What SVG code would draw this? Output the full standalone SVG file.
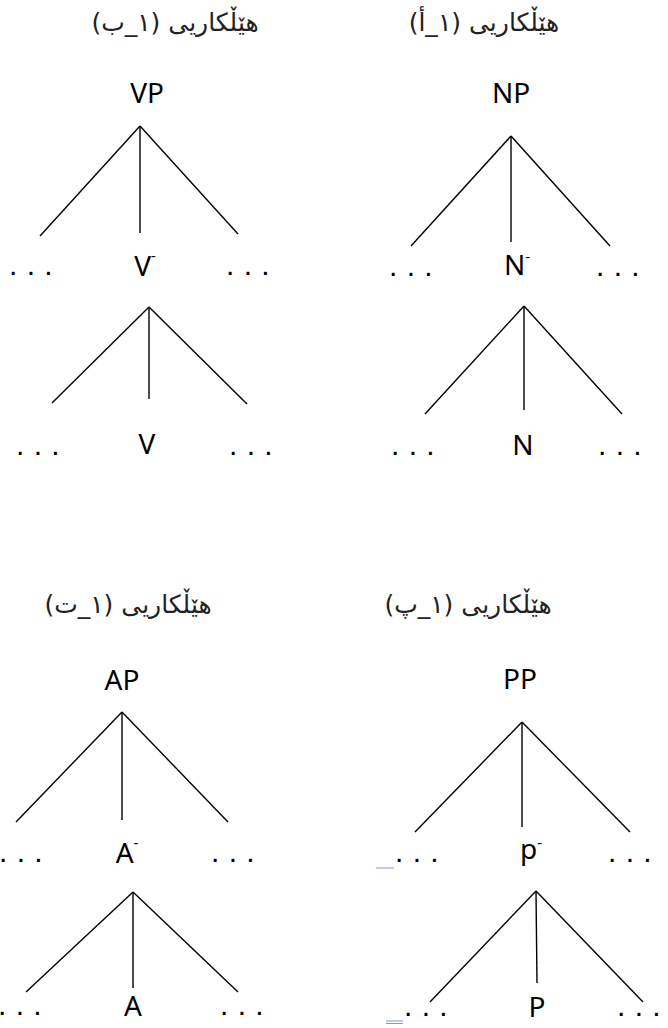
<svg xmlns="http://www.w3.org/2000/svg" width="668" height="1028" viewBox="0 0 668 1028">
<style>
.hd{font-family:"DejaVu Sans","Noto Sans",sans-serif;font-size:25px;fill:#222;text-anchor:middle;direction:rtl;unicode-bidi:embed}
.lb{font-family:"Noto Sans","Open Sans",sans-serif;font-size:28px;fill:#000;text-anchor:middle}
.sup{font-size:15px}
.dt{font-family:"Liberation Sans",Arial,sans-serif;font-size:30px;fill:#000;letter-spacing:9.3px}
.ln line{stroke:#000;stroke-width:1.4}
.bl{stroke:#7a9ae0;stroke-width:1}
</style>
<rect width="668" height="1028" fill="#fff"/>
<g id="headers">
<text class="hd" x="175" y="31">هێڵکاریی (١_ب)</text>
<text class="hd" x="484" y="31">هێڵکاریی (١_أ)</text>
<text class="hd" x="128" y="613">هێڵکاریی (١_ت)</text>
<text class="hd" x="468" y="613">هێڵکاریی (١_پ)</text>
</g>
<g id="connectors" class="ln">
<line x1="140" y1="126" x2="40" y2="236"/><line x1="140" y1="126" x2="140" y2="233"/><line x1="140" y1="126" x2="238" y2="234"/>
<line x1="149" y1="307" x2="52" y2="403"/><line x1="149" y1="307" x2="149" y2="399"/><line x1="149" y1="307" x2="247" y2="404"/>
<line x1="511" y1="136" x2="411" y2="246"/><line x1="511" y1="136" x2="511" y2="242"/><line x1="511" y1="136" x2="610" y2="246"/>
<line x1="524" y1="306" x2="425" y2="414"/><line x1="524" y1="306" x2="524" y2="410"/><line x1="524" y1="306" x2="622" y2="414"/>
<line x1="122" y1="712" x2="16" y2="822"/><line x1="122" y1="712" x2="122" y2="820"/><line x1="122" y1="712" x2="228" y2="822"/>
<line x1="133" y1="892" x2="26" y2="992"/><line x1="133" y1="892" x2="133" y2="988"/><line x1="133" y1="892" x2="238" y2="992"/>
<line x1="522" y1="722" x2="415" y2="832"/><line x1="522" y1="722" x2="522" y2="827"/><line x1="522" y1="722" x2="630" y2="832"/>
<line x1="536" y1="891" x2="430" y2="1002"/><line x1="536" y1="891" x2="537" y2="983"/><line x1="536" y1="891" x2="643" y2="1002"/>
</g>
<g id="tree-VP">
<text class="lb" x="147" y="103">VP</text>
<text class="dt" x="9" y="275">...</text>
<text class="lb" x="145" y="276">V<tspan class="sup" dy="-15">-</tspan></text>
<text class="dt" x="226" y="275">...</text>
<text class="dt" x="16" y="455">...</text>
<text class="lb" x="147" y="454">V</text>
<text class="dt" x="229" y="455">...</text>
</g>
<g id="tree-NP">
<text class="lb" x="511" y="103">NP</text>
<text class="dt" x="389" y="276">...</text>
<text class="lb" x="517" y="275">N<tspan class="sup" dy="-13">-</tspan></text>
<text class="dt" x="596" y="276">...</text>
<text class="dt" x="391" y="455">...</text>
<text class="lb" x="523" y="455">N</text>
<text class="dt" x="598" y="455">...</text>
</g>
<g id="tree-AP">
<text class="lb" x="122" y="690">AP</text>
<text class="dt" x="-1" y="862">...</text>
<text class="lb" x="127" y="863">A<tspan class="sup" dy="-15">-</tspan></text>
<text class="dt" x="211" y="862">...</text>
<text class="dt" x="-2" y="1015">...</text>
<text class="lb" x="133" y="1016">A</text>
<text class="dt" x="220" y="1015">...</text>
</g>
<g id="tree-PP">
<text class="lb" x="520" y="689">PP</text>
<line class="bl" x1="376" y1="868" x2="394" y2="868"/>
<text class="dt" x="395" y="862">...</text>
<text class="lb" x="531" y="859">p<tspan class="sup" dy="-11">-</tspan></text>
<text class="dt" x="608" y="862">...</text>
<line class="bl" x1="386" y1="1021" x2="403" y2="1021"/>
<line class="bl" x1="386" y1="1023.5" x2="403" y2="1023.5"/>
<text class="dt" x="404" y="1016">...</text>
<text class="lb" x="537" y="1017">P</text>
<text class="dt" x="617" y="1016">...</text>
</g>
</svg>
